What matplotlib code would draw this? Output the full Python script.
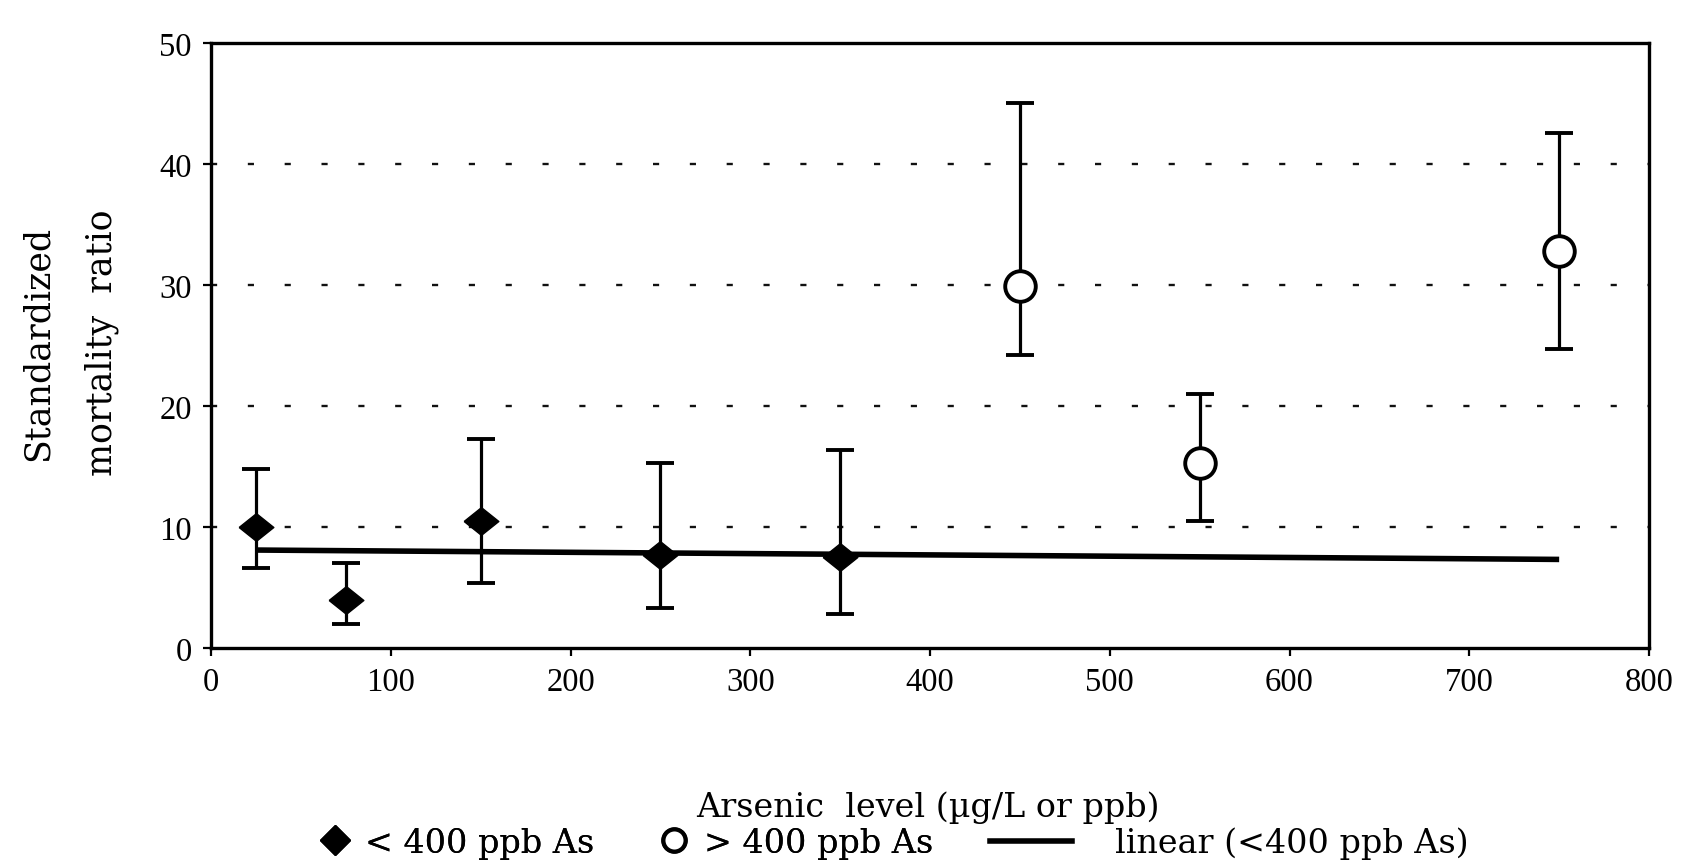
import numpy as np
import matplotlib.pyplot as plt
from matplotlib.lines import Line2D

plt.rcParams['font.family'] = ['Liberation Serif', 'DejaVu Serif']
label_font = ['DejaVu Serif']

# below 400 ppb (filled diamonds)
low_x = [25, 75, 150, 250, 350]
low_y = [10.0, 4.0, 10.5, 7.7, 7.5]
low_lo = [6.6, 2.0, 5.4, 3.3, 2.8]
low_hi = [14.8, 7.0, 17.3, 15.3, 16.4]

# above 400 ppb (open circles)
high_x = [450, 550, 750]
high_y = [29.9, 15.3, 32.8]
high_lo = [24.2, 10.5, 24.7]
high_hi = [45.0, 21.0, 42.6]

xticks = [0, 100, 200, 300, 400, 500, 600, 700, 800]
yticks = [0, 10, 20, 30, 40, 50]

fig = plt.figure(figsize=(16.82, 8.62), dpi=100)
ax = fig.add_axes([0.1255, 0.2471, 0.8549, 0.7019])

# grid lines (short dashes)
for v in yticks[1:-1]:
    ax.axhline(v, color='#111111', lw=1.7, dashes=(2.6, 13), zorder=1)

# trend line fitted to the low group, drawn from first low point to last point
k, b = np.polyfit(low_x, low_y, 1)
tx = np.array([low_x[0], high_x[-1]])
ax.plot(tx, k * tx + b, color='black', lw=4, solid_capstyle='butt', zorder=2)

diamond = [(-1, 0), (0, 0.8), (1, 0), (0, -0.8), (-1, 0)]

ly = np.array(low_y)
ax.errorbar(low_x, low_y,
            yerr=[ly - np.array(low_lo), np.array(low_hi) - ly],
            fmt='none', ecolor='black', elinewidth=2.3, capsize=10, capthick=2.8, zorder=3)
ax.plot(low_x, low_y, linestyle='none', marker=diamond, ms=25, color='black', zorder=4)

hy = np.array(high_y)
ax.errorbar(high_x, high_y,
            yerr=[hy - np.array(high_lo), np.array(high_hi) - hy],
            fmt='none', ecolor='black', elinewidth=2.3, capsize=10, capthick=2.8, zorder=3)
ax.plot(high_x, high_y, linestyle='none', marker='o', ms=22, mfc='white',
        mec='black', mew=2.8, zorder=4)

ax.set_xlim(0, 800)
ax.set_ylim(0, 50)
ax.set_xticks(xticks)
ax.set_yticks(yticks)
ax.tick_params(axis='both', direction='out', length=6, width=1.6, labelsize=23.5, color='black')
ax.tick_params(axis='x', pad=7)
ax.tick_params(axis='y', pad=8)
for s in ax.spines.values():
    s.set_linewidth(2.4)

fig.text(0.0223, 0.602, 'Standardized', rotation=90, ha='center', va='center',
         fontsize=25, family=label_font)
fig.text(0.0606, 0.602, 'mortality  ratio', rotation=90, ha='center', va='center',
         fontsize=25, family=label_font)
fig.text(0.5517, 0.0626, 'Arsenic  level (µg/L or ppb)', ha='center', va='center',
         fontsize=24, family=label_font)

marker_handles = [
    Line2D([], [], linestyle='none', marker='D', ms=15, color='black'),
    Line2D([], [], linestyle='none', marker='o', ms=16, mfc='white', mec='black', mew=3),
]
leg1 = fig.legend(marker_handles, ['< 400 ppb As', '> 400 ppb As'], loc='center',
                  bbox_to_anchor=(0.373, 0.0209), ncol=2, frameon=False,
                  prop={'family': label_font, 'size': 24}, handlelength=0.8,
                  handletextpad=0.5, columnspacing=2.0, borderpad=0)
fig.add_artist(leg1)
fig.legend([Line2D([], [], color='black', lw=4)], ['linear (<400 ppb As)'], loc='center',
           bbox_to_anchor=(0.731, 0.0209), frameon=False,
           prop={'family': label_font, 'size': 24}, handlelength=2.45,
           handletextpad=1.3, borderpad=0)

fig.savefig('out.png', dpi=100)
